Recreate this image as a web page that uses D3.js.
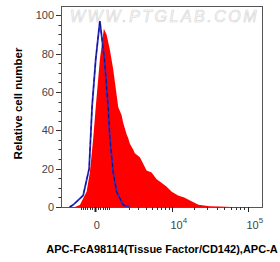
<!DOCTYPE html>
<html>
<head>
<meta charset="utf-8">
<script src="https://cdn.jsdelivr.net/npm/d3@7"></script>
<style>
  body { margin: 0; background: #fff; }
  svg { display: block; font-family: "Liberation Sans", Arial, sans-serif; }
</style>
</head>
<body>
<div class="chart"></div>
<script>
// fluorescence intensity (x) and relative cell number (y)
const redX = [-943, -653, -326, -187, -58, 35, 187, 357, 484, 653, 839, 1163, 1400, 1525, 1805, 1946, 2107, 2437, 2620, 3217, 3616, 4163, 5000, 5976, 7140, 8404, 9920, 12140, 14753, 17923, 22880, 32050, 43000, 62000];
const redY = [0, 1, 8, 18, 36, 53, 77, 93, 90, 82, 72, 52, 48, 44, 38, 36, 33, 30, 28, 26, 23, 19, 18, 14.5, 12.5, 10.5, 8, 6, 5, 3.2, 1.2, 0.4, 0.2, 0];

const blueX = [-1300, -1067, -484, -216, -98, 30, 187, 384, 564, 653, 839, 1054, 1525, 2000];
const blueY = [0, 1, 6, 20, 53, 77, 97, 77, 52, 36, 18, 8, 1, 0];

const yTicks = [0, 20, 40, 60, 80, 100];
const xMajor = [0, 1e4, 1e5];
const xMajorBase = ['0', '10', '10'];
const xMajorExp = ['', '4', '5'];
const xMinor = [-600, -500, -400, -300, -200, -100, 100, 200, 300, 400, 500, 600,
  2000, 3000, 4000, 5000, 6000, 7000, 8000, 9000,
  20000, 30000, 40000, 50000, 60000, 70000, 80000, 90000];

const width = 280;
const height = 262;
const plotL = 61, plotR = 263, plotT = 6, plotB = 207;

const x = d3.scaleSymlog().constant(1200).domain([-2000, 155000]).range([plotL, plotR]);
const y = d3.scaleLinear().domain([0, 100]).range([plotB, 15.3]);

const svg = d3.select('.chart').append('svg')
    .attr('width', width)
    .attr('height', height);

svg.append('clipPath').attr('id', 'plot')
  .append('rect')
    .attr('x', plotL).attr('y', plotT)
    .attr('width', plotR - plotL).attr('height', plotB - plotT);

// watermark
svg.append('text')
    .attr('x', 70)
    .attr('y', 21.5)
    .style('font-size', '16px')
    .style('font-style', 'italic')
    .style('letter-spacing', '2.5px')
    .attr('fill', '#fdfdfd')
    .attr('stroke', '#d4d4d4')
    .attr('stroke-width', 0.6)
    .text('WWW.PTGLAB.COM');

const g = svg.append('g').attr('clip-path', 'url(#plot)');

const red = redX.map((v, i) => [v, redY[i]]);
const blue = blueX.map((v, i) => [v, blueY[i]]);

g.append('path')
    .datum(red)
    .attr('fill', '#ff0000')
    .attr('d', d3.area().x(d => x(d[0])).y0(y(0)).y1(d => y(d[1])));

const blueLine = d3.line().x(d => x(d[0])).y(d => y(d[1]));
g.append('path')
    .datum(blue)
    .attr('fill', 'none')
    .attr('stroke', '#2a2ad0')
    .attr('stroke-width', 1.8)
    .attr('d', blueLine);
g.append('path')
    .datum(blue)
    .attr('fill', 'none')
    .attr('stroke', '#141460')
    .attr('stroke-width', 1)
    .attr('stroke-dasharray', '4,3')
    .attr('d', blueLine);

// frame
svg.append('rect')
    .attr('x', plotL + 0.5).attr('y', plotT + 0.5)
    .attr('width', plotR - plotL - 1).attr('height', plotB - plotT)
    .attr('fill', 'none')
    .attr('stroke', '#555')
    .attr('stroke-width', 1);

// y axis
d3.range(0, 101, 5).forEach(v => {
  const major = v % 20 === 0;
  svg.append('line')
      .attr('x1', plotL - (major ? 5 : 2.5)).attr('x2', plotL)
      .attr('y1', Math.round(y(v)) + 0.5).attr('y2', Math.round(y(v)) + 0.5)
      .attr('stroke', '#333');
});
yTicks.forEach(v => {
  svg.append('text')
      .attr('x', 54)
      .attr('y', y(v) + 4)
      .attr('text-anchor', 'end')
      .attr('fill', '#444')
      .style('font-size', '11px')
      .text(v);
});

// x axis
xMinor.forEach(v => {
  svg.append('line')
      .attr('x1', Math.round(x(v)) + 0.5).attr('x2', Math.round(x(v)) + 0.5)
      .attr('y1', plotB).attr('y2', plotB + 3)
      .attr('stroke', '#333');
});
xMajor.forEach((v, i) => {
  svg.append('line')
      .attr('x1', Math.round(x(v)) + 0.5).attr('x2', Math.round(x(v)) + 0.5)
      .attr('y1', plotB).attr('y2', plotB + 5)
      .attr('stroke', '#222')
      .attr('stroke-width', i === 0 ? 2 : 1);
  const t = svg.append('text')
      .attr('y', 229)
      .attr('fill', '#444')
      .style('font-size', '11px');
  if (xMajorExp[i]) {
    t.attr('x', x(v) - 1.5).attr('text-anchor', 'start');
    t.append('tspan').text(xMajorBase[i]);
    t.append('tspan').attr('dy', -6).style('font-size', '8px').text(xMajorExp[i]);
  } else {
    t.attr('x', x(v) + 2).attr('text-anchor', 'middle').text(xMajorBase[i]);
  }
});

// axis titles
svg.append('text')
    .attr('transform', 'translate(21.5,103.5) rotate(-90)')
    .attr('text-anchor', 'middle')
    .style('font-size', '11.5px')
    .style('font-weight', 'bold')
    .text('Relative cell number');

svg.append('text')
    .attr('x', 162)
    .attr('y', 253)
    .attr('text-anchor', 'middle')
    .style('font-size', '11px')
    .style('font-weight', 'bold')
    .text('APC-FcA98114(Tissue Factor/CD142),APC-A');
</script>
</body>
</html>
